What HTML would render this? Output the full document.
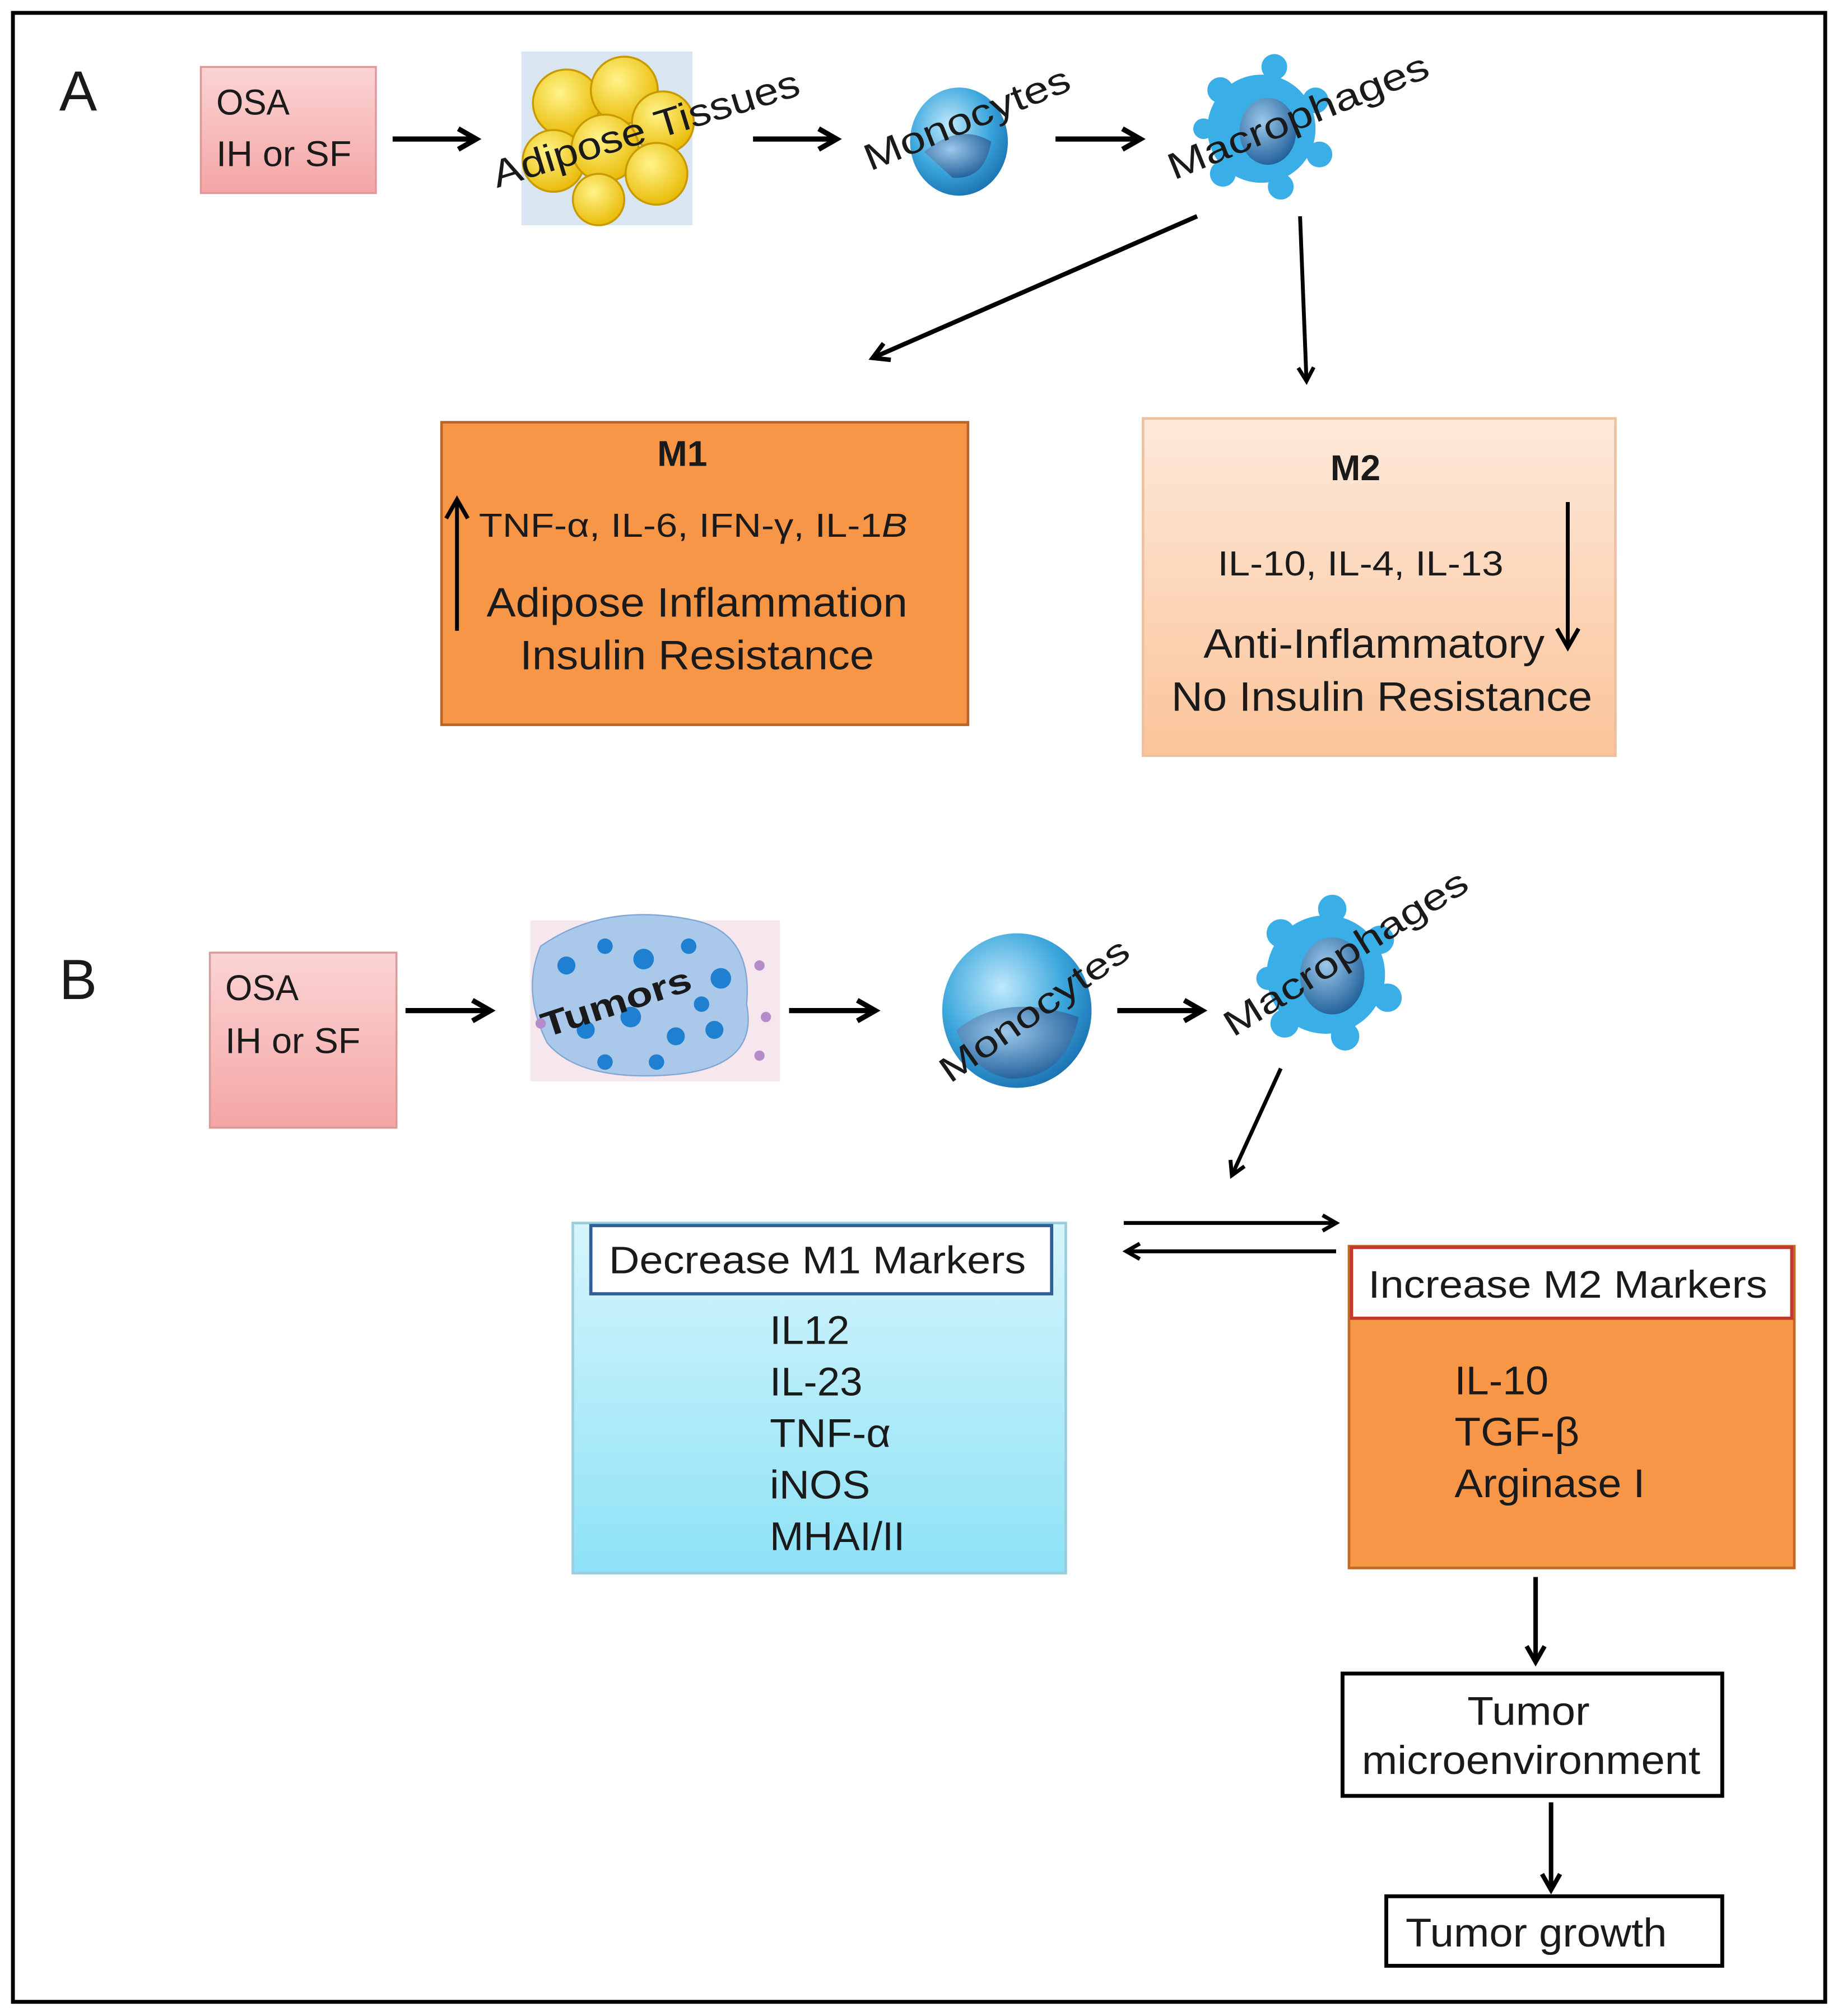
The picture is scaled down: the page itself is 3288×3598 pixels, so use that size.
<!DOCTYPE html>
<html><head><meta charset="utf-8"><style>
html,body{margin:0;padding:0;background:#fff}
svg{display:block}
text{font-family:"Liberation Sans",Arial,sans-serif;fill:#1a1a1a}
</style></head><body>
<svg width="3288" height="3598" viewBox="0 0 1431 1566" xmlns="http://www.w3.org/2000/svg">
<defs>
<marker id="ah" viewBox="0 0 10 10" refX="8" refY="5" markerWidth="5" markerHeight="5" orient="auto-start-reverse"><path d="M1,1 L8,5 L1,9" fill="none" stroke="#000" stroke-width="2"/></marker>
<marker id="ah2" viewBox="0 0 10 10" refX="8" refY="5" markerWidth="7" markerHeight="7" orient="auto-start-reverse"><path d="M1,1 L8,5 L1,9" fill="none" stroke="#000" stroke-width="1.5"/></marker>
<linearGradient id="pink" x1="0" y1="0" x2="0" y2="1"><stop offset="0" stop-color="#fbd4d4"/><stop offset="1" stop-color="#f4a5a5"/></linearGradient>
<linearGradient id="peach" x1="0" y1="0" x2="0" y2="1"><stop offset="0" stop-color="#fde9da"/><stop offset="1" stop-color="#fbc49a"/></linearGradient>
<linearGradient id="cyan" x1="0" y1="0" x2="0" y2="1"><stop offset="0" stop-color="#d6f5fb"/><stop offset="1" stop-color="#8de2f7"/></linearGradient>
<radialGradient id="cell" cx="0.4" cy="0.35" r="0.7"><stop offset="0" stop-color="#bfe8fb"/><stop offset="0.6" stop-color="#3aa6dc"/><stop offset="1" stop-color="#1a6fb0"/></radialGradient>
<radialGradient id="nuc" cx="0.4" cy="0.35" r="0.7"><stop offset="0" stop-color="#9cc8ea"/><stop offset="1" stop-color="#1e5d98"/></radialGradient>
<radialGradient id="fat" cx="0.4" cy="0.35" r="0.7"><stop offset="0" stop-color="#fff48a"/><stop offset="1" stop-color="#e8b800"/></radialGradient>
</defs>
<rect x="10" y="10" width="1408" height="1545" fill="#fff" stroke="#000" stroke-width="3"/>

<text x="46" y="86" font-size="44">A</text>
<text x="46" y="776" font-size="44">B</text>

<!-- A row -->
<rect x="156" y="52" width="136" height="98" fill="url(#pink)" stroke="#d99" stroke-width="1.5"/>
<text x="168" y="89" font-size="28" textLength="57" lengthAdjust="spacingAndGlyphs">OSA</text>
<text x="168" y="129" font-size="28" textLength="105" lengthAdjust="spacingAndGlyphs">IH or SF</text>
<line x1="305" y1="108" x2="370" y2="108" stroke="#000" stroke-width="4" marker-end="url(#ah)"/>

<rect x="405" y="40" width="133" height="135" fill="#d9e5f1"/>
<g stroke="#c89a00" stroke-width="1.5" fill="url(#fat)">
<circle cx="440" cy="80" r="26"/><circle cx="485" cy="70" r="26"/><circle cx="515" cy="95" r="24"/>
<circle cx="430" cy="125" r="24"/><circle cx="470" cy="115" r="26"/><circle cx="510" cy="135" r="24"/>
<circle cx="465" cy="155" r="20"/>
</g>
<text font-size="30" textLength="248" lengthAdjust="spacingAndGlyphs" transform="translate(386,146) rotate(-17)">Adipose Tissues</text>
<line x1="585" y1="108" x2="650" y2="108" stroke="#000" stroke-width="4" marker-end="url(#ah)"/>

<ellipse cx="745" cy="110" rx="38" ry="42" fill="url(#cell)"/>
<path d="M718,118 Q745,95 770,110 Q765,140 740,138 Z" fill="url(#nuc)"/>
<text font-size="29" textLength="170" lengthAdjust="spacingAndGlyphs" transform="translate(676,133) rotate(-22)">Monocytes</text>
<line x1="820" y1="108" x2="886" y2="108" stroke="#000" stroke-width="4" marker-end="url(#ah)"/>

<g fill="#3aaee6">
<circle cx="980" cy="100" r="42"/>
<circle cx="948" cy="70" r="10"/><circle cx="990" cy="52" r="10"/><circle cx="1022" cy="78" r="10"/><circle cx="1025" cy="120" r="10"/><circle cx="995" cy="145" r="10"/><circle cx="950" cy="135" r="10"/><circle cx="935" cy="100" r="8"/>
</g>
<ellipse cx="985" cy="102" rx="22" ry="26" fill="url(#nuc)"/>
<text font-size="29" textLength="216" lengthAdjust="spacingAndGlyphs" transform="translate(912,140) rotate(-22)">Macrophages</text>

<line x1="930" y1="168" x2="678" y2="278" stroke="#000" stroke-width="3.5" marker-end="url(#ah)"/>
<line x1="1010" y1="168" x2="1015" y2="296" stroke="#000" stroke-width="3" marker-end="url(#ah)"/>

<rect x="343" y="328" width="409" height="235" fill="#f79646" stroke="#b8652a" stroke-width="2"/>
<text x="530" y="362" font-size="28" font-weight="bold" text-anchor="middle">M1</text>
<line x1="355" y1="490" x2="355" y2="388" stroke="#000" stroke-width="3" marker-end="url(#ah2)"/>
<text x="372" y="417" font-size="26" textLength="333" lengthAdjust="spacingAndGlyphs">TNF-α,  IL-6, IFN-γ, IL-1<tspan font-style="italic">B</tspan></text>
<text x="378" y="479" font-size="32" textLength="327" lengthAdjust="spacingAndGlyphs">Adipose Inflammation</text>
<text x="404" y="520" font-size="32" textLength="275" lengthAdjust="spacingAndGlyphs">Insulin Resistance</text>

<rect x="888" y="325" width="367" height="262" fill="url(#peach)" stroke="#ecc0a0" stroke-width="2"/>
<text x="1053" y="373" font-size="28" font-weight="bold" text-anchor="middle">M2</text>
<text x="946" y="447" font-size="27" textLength="222" lengthAdjust="spacingAndGlyphs">IL-10, IL-4, IL-13</text>
<line x1="1218" y1="390" x2="1218" y2="503" stroke="#000" stroke-width="3" marker-end="url(#ah2)"/>
<text x="935" y="511" font-size="32" textLength="265" lengthAdjust="spacingAndGlyphs">Anti-Inflammatory</text>
<text x="910" y="552" font-size="32" textLength="327" lengthAdjust="spacingAndGlyphs">No Insulin Resistance</text>

<!-- B row -->
<rect x="163" y="740" width="145" height="136" fill="url(#pink)" stroke="#d99" stroke-width="1.5"/>
<text x="175" y="777" font-size="28" textLength="57" lengthAdjust="spacingAndGlyphs">OSA</text>
<text x="175" y="818" font-size="28" textLength="105" lengthAdjust="spacingAndGlyphs">IH or SF</text>
<line x1="315" y1="785" x2="381" y2="785" stroke="#000" stroke-width="4" marker-end="url(#ah)"/>

<rect x="412" y="715" width="194" height="125" fill="#f6e6ee"/>
<path d="M420,735 Q470,700 540,715 Q585,725 580,780 Q590,830 520,835 Q450,840 425,810 Q405,770 420,735 Z" fill="#a9c8ea" stroke="#7fa6d4"/>
<g fill="#1f7fd0">
<circle cx="440" cy="750" r="7"/><circle cx="470" cy="735" r="6"/><circle cx="500" cy="745" r="8"/><circle cx="535" cy="735" r="6"/><circle cx="560" cy="760" r="8"/>
<circle cx="455" cy="800" r="7"/><circle cx="490" cy="790" r="8"/><circle cx="525" cy="805" r="7"/><circle cx="555" cy="800" r="7"/><circle cx="470" cy="825" r="6"/><circle cx="510" cy="825" r="6"/><circle cx="545" cy="780" r="6"/>
</g>
<g fill="#b48ccc"><circle cx="590" cy="750" r="4"/><circle cx="595" cy="790" r="4"/><circle cx="420" cy="795" r="4"/><circle cx="590" cy="820" r="4"/></g>
<text font-size="27" font-weight="bold" textLength="121" lengthAdjust="spacingAndGlyphs" transform="translate(424,806) rotate(-18)">Tumors</text>
<line x1="613" y1="785" x2="680" y2="785" stroke="#000" stroke-width="4" marker-end="url(#ah)"/>

<ellipse cx="790" cy="785" rx="58" ry="60" fill="url(#cell)"/>
<path d="M743,800 Q780,770 838,790 Q828,838 785,838 Q755,833 743,800 Z" fill="url(#nuc)"/>
<text font-size="28" textLength="173" lengthAdjust="spacingAndGlyphs" transform="translate(738,842) rotate(-35)">Monocytes</text>
<line x1="868" y1="785" x2="934" y2="785" stroke="#000" stroke-width="4" marker-end="url(#ah)"/>

<g fill="#3aaee6">
<circle cx="1030" cy="757" r="46"/>
<circle cx="995" cy="725" r="11"/><circle cx="1035" cy="706" r="11"/><circle cx="1072" cy="730" r="11"/><circle cx="1078" cy="775" r="11"/><circle cx="1045" cy="805" r="11"/><circle cx="998" cy="795" r="11"/><circle cx="985" cy="760" r="9"/>
</g>
<ellipse cx="1035" cy="758" rx="25" ry="30" fill="url(#nuc)"/>
<text font-size="28" textLength="218" lengthAdjust="spacingAndGlyphs" transform="translate(958,806) rotate(-32)">Macrophages</text>

<line x1="995" y1="830" x2="957" y2="913" stroke="#000" stroke-width="3" marker-end="url(#ah)"/>
<line x1="873" y1="950" x2="1038" y2="950" stroke="#000" stroke-width="3" marker-end="url(#ah)"/>
<line x1="1038" y1="972" x2="875" y2="972" stroke="#000" stroke-width="3" marker-end="url(#ah)"/>

<rect x="445" y="950" width="383" height="272" fill="url(#cyan)" stroke="#9cd" stroke-width="2"/>
<rect x="459" y="952" width="358" height="53" fill="#fff" stroke="#2f5e9a" stroke-width="2.5"/>
<text x="473" y="989" font-size="30" textLength="324" lengthAdjust="spacingAndGlyphs">Decrease M1 Markers</text>
<text x="598" y="1044" font-size="31" textLength="62" lengthAdjust="spacingAndGlyphs">IL12</text>
<text x="598" y="1084" font-size="31" textLength="72" lengthAdjust="spacingAndGlyphs">IL-23</text>
<text x="598" y="1124" font-size="31" textLength="94" lengthAdjust="spacingAndGlyphs">TNF-α</text>
<text x="598" y="1164" font-size="31" textLength="78" lengthAdjust="spacingAndGlyphs">iNOS</text>
<text x="598" y="1204" font-size="31" textLength="105" lengthAdjust="spacingAndGlyphs">MHAI/II</text>

<rect x="1048" y="968" width="346" height="250" fill="#f79646" stroke="#c06a2a" stroke-width="2"/>
<rect x="1050" y="969" width="342" height="55" fill="#fff" stroke="#c0392b" stroke-width="2.5"/>
<text x="1063" y="1008" font-size="30" textLength="310" lengthAdjust="spacingAndGlyphs">Increase M2 Markers</text>
<text x="1130" y="1083" font-size="31" textLength="73" lengthAdjust="spacingAndGlyphs">IL-10</text>
<text x="1130" y="1123" font-size="31" textLength="97" lengthAdjust="spacingAndGlyphs">TGF-β</text>
<text x="1130" y="1163" font-size="31" textLength="148" lengthAdjust="spacingAndGlyphs">Arginase I</text>

<line x1="1193" y1="1225" x2="1193" y2="1291" stroke="#000" stroke-width="3.5" marker-end="url(#ah)"/>
<rect x="1043" y="1300" width="295" height="95" fill="#fff" stroke="#000" stroke-width="3"/>
<text x="1140" y="1340" font-size="31" textLength="95" lengthAdjust="spacingAndGlyphs">Tumor</text>
<text x="1058" y="1378" font-size="31" textLength="263" lengthAdjust="spacingAndGlyphs">microenvironment</text>
<line x1="1205" y1="1400" x2="1205" y2="1468" stroke="#000" stroke-width="3.5" marker-end="url(#ah)"/>
<rect x="1077" y="1473" width="261" height="54" fill="#fff" stroke="#000" stroke-width="3"/>
<text x="1092" y="1512" font-size="31" textLength="203" lengthAdjust="spacingAndGlyphs">Tumor growth</text>
</svg>
</body></html>
